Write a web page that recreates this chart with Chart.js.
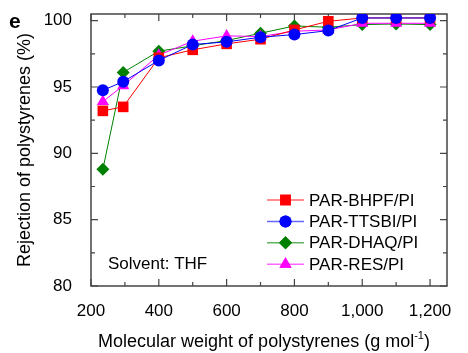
<!DOCTYPE html>
<html>
<head>
<meta charset="utf-8">
<script src="https://cdn.jsdelivr.net/npm/chart.js@4/dist/chart.umd.min.js"></script>
<style>
  html, body { margin: 0; padding: 0; background: #fff; }
  #wrap { width: 468px; height: 353px; position: relative; }
</style>
</head>
<body>
<div id="wrap"><canvas id="rejection"></canvas></div>
<script>
// molecular weight of the polystyrene standards (g/mol)
var mw = [235, 295, 400, 500, 600, 700, 800, 900, 1000, 1100, 1200];

// rejection (%) per membrane
var bhpf  = [93.2, 93.5, 97.2, 97.8, 98.25, 98.6, 99.3, 99.95, 100.2, 100.2, 100.2];
var ttsbi = [94.75, 95.4, 97.0, 98.2, 98.4, 98.75, 98.95, 99.25, 100.2, 100.2, 100.2];
var dhaq  = [88.8, 96.1, 97.7, 98.1, 98.5, 99.05, 99.6, 99.5, 99.7, 99.75, 99.7];
var res   = [93.9, 95.1, 97.4, 98.45, 98.85, 98.8, 99.2, 99.3, 99.8, 99.8, 99.8];

var seriesNames = ['PAR-BHPF/PI', 'PAR-TTSBI/PI', 'PAR-DHAQ/PI', 'PAR-RES/PI'];

// ticks: labelled majors, unlabelled minors
var xTicks = [200, 300, 400, 500, 600, 700, 800, 900, 1000, 1100, 1200];
var xLabels = ['200', '', '400', '', '600', '', '800', '', '1,000', '', '1,200'];
var yTicks = [80, 82.5, 85, 87.5, 90, 92.5, 95, 97.5, 100];
var yLabels = ['80', '', '85', '', '90', '', '95', '', '100'];

var FONT = "'Liberation Sans', Arial, sans-serif";

function pts(ys) {
  return mw.map(function(x, i) { return {x: x, y: ys[i]}; });
}

function series(label, data, color, style, radius, order) {
  return {
    label: label,
    data: pts(data),
    borderColor: color,
    backgroundColor: color,
    pointBackgroundColor: color,
    pointBorderColor: color,
    pointBorderWidth: 0,
    pointStyle: style,
    pointRadius: radius,
    borderWidth: 1,
    order: order
  };
}

// frame, inward ticks, legend, note and x title with superscript
var decor = {
  id: 'decor',
  beforeDatasetsDraw: function(chart) {
    var ctx = chart.ctx, a = chart.chartArea;
    var sx = chart.scales.x, sy = chart.scales.y;
    ctx.save();
    ctx.strokeStyle = '#444';
    ctx.lineWidth = 1.5;
    ctx.strokeRect(a.left, a.top, a.right - a.left, a.bottom - a.top);
    ctx.lineWidth = 1.2;
    ctx.beginPath();
    xTicks.forEach(function(v, i) {
      var px = sx.getPixelForValue(v);
      var len = xLabels[i] ? 7 : 4;
      ctx.moveTo(px, a.bottom); ctx.lineTo(px, a.bottom - len);
      ctx.moveTo(px, a.top); ctx.lineTo(px, a.top + len);
    });
    yTicks.forEach(function(v, i) {
      var py = sy.getPixelForValue(v);
      var len = yLabels[i] ? 7 : 4;
      ctx.moveTo(a.left, py); ctx.lineTo(a.left + len, py);
      ctx.moveTo(a.right, py); ctx.lineTo(a.right - len, py);
    });
    ctx.stroke();
    ctx.restore();
  },
  afterDraw: function(chart) {
    var ctx = chart.ctx, a = chart.chartArea;
    ctx.save();

    // legend inside the plot, lower right
    var lx = 267, ly = 200, step = 21.4;
    ctx.font = '17px ' + FONT;
    ctx.textBaseline = 'middle';
    ctx.textAlign = 'left';
    seriesNames.forEach(function(name, i) {
      var ds = chart.data.datasets[i];
      var y = ly + i * step;
      ctx.strokeStyle = ds.borderColor;
      ctx.globalAlpha = 0.6;
      ctx.lineWidth = 1.5;
      ctx.beginPath();
      ctx.moveTo(lx, y); ctx.lineTo(lx + 37, y);
      ctx.stroke();
      ctx.globalAlpha = 1;
      ctx.fillStyle = ds.backgroundColor;
      Chart.helpers.drawPoint(ctx, {pointStyle: ds.pointStyle, radius: ds.pointRadius, borderWidth: 0}, lx + 18.5, y);
      ctx.fill();
      ctx.fillStyle = '#000';
      ctx.fillText(name, lx + 42, y + 1);
    });

    ctx.fillStyle = '#000';
    ctx.fillText('Solvent: THF', 108, 264);

    // panel letter
    ctx.font = 'bold 21px ' + FONT;
    ctx.textBaseline = 'alphabetic';
    ctx.fillText('e', 9, 28);

    // x axis title with superscript
    var main = 'Molecular weight of polystyrenes (g mol';
    var sup = '-1';
    var tail = ')';
    ctx.font = '18px ' + FONT;
    var w1 = ctx.measureText(main).width;
    var w3 = ctx.measureText(tail).width;
    ctx.font = '11px ' + FONT;
    var w2 = ctx.measureText(sup).width;
    var x0 = 264 - (w1 + w2 + w3) / 2;
    var base = 347;
    ctx.font = '18px ' + FONT;
    ctx.fillText(main, x0, base);
    ctx.font = '11px ' + FONT;
    ctx.fillText(sup, x0 + w1, base - 8);
    ctx.font = '18px ' + FONT;
    ctx.fillText(tail, x0 + w1 + w2, base);
    ctx.restore();
  }
};

var ctx = document.getElementById('rejection');
new Chart(ctx, {
  type: 'line',
  data: {
    datasets: [
      series(seriesNames[0], bhpf, '#ff0000', 'rect', 7.5, 2),
      series(seriesNames[1], ttsbi, '#0000ff', 'circle', 6, 1),
      series(seriesNames[2], dhaq, '#008000', 'rectRot', 6.5, 4),
      series(seriesNames[3], res, '#ff00ff', 'triangle', 7, 3)
    ]
  },
  options: {
    responsive: true,
    maintainAspectRatio: false,
    animation: false,
    layout: { padding: { top: 14, right: 21, left: 0, bottom: 0 } },
    plugins: {
      legend: { display: false },
      tooltip: { enabled: false }
    },
    scales: {
      x: {
        type: 'linear',
        min: 200,
        max: 1250,
        grid: { display: false },
        border: { display: false },
        afterBuildTicks: function(scale) {
          scale.ticks = xTicks.map(function(v) { return {value: v}; });
        },
        afterFit: function(scale) {
          scale.height = 67;
          scale.paddingLeft = 0;
          scale.paddingRight = 0;
        },
        ticks: {
          autoSkip: false,
          maxRotation: 0,
          padding: 7,
          color: '#000',
          font: { family: FONT, size: 17 },
          callback: function(v) { return xLabels[xTicks.indexOf(v)] || ''; }
        }
      },
      y: {
        min: 80,
        max: 100.5,
        grid: { display: false },
        border: { display: false },
        afterBuildTicks: function(scale) {
          scale.ticks = yTicks.map(function(v) { return {value: v}; });
        },
        afterFit: function(scale) {
          scale.width = 91;
          scale.paddingTop = 0;
          scale.paddingBottom = 0;
        },
        title: {
          display: true,
          text: 'Rejection of polystyrenes (%)',
          color: '#000',
          font: { family: FONT, size: 18 },
          padding: { top: 14, bottom: 0 }
        },
        ticks: {
          autoSkip: false,
          padding: 11,
          color: '#000',
          font: { family: FONT, size: 17 },
          callback: function(v) { return yLabels[yTicks.indexOf(v)] || ''; }
        }
      }
    }
  },
  plugins: [decor]
});
</script>
</body>
</html>
